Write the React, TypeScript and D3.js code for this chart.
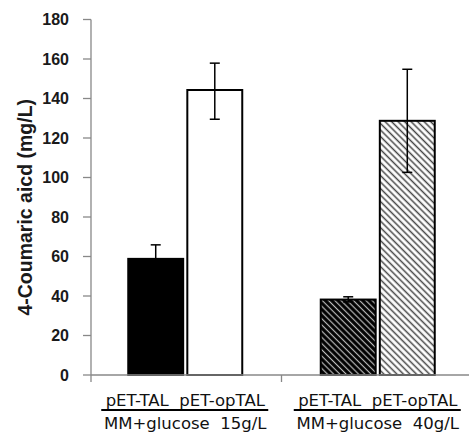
import React from "react";
import * as d3 from "d3";

const groups = ["MM+glucose  15g/L", "MM+glucose  40g/L"];
const strains = ["pET-TAL", "pET-opTAL"];
const values = [
  [58.8, 144.3],
  [38.2, 128.7],
];
const errLow = [
  [58.8, 129.5],
  [37.0, 102.6],
];
const errHigh = [
  [65.9, 157.9],
  [39.6, 154.8],
];
const yTicks = [0, 20, 40, 60, 80, 100, 120, 140, 160, 180];
const fills = [
  ["#000000", "#ffffff"],
  ["url(#hatchDark)", "url(#hatchLight)"],
];

export default function App() {
  const W = 469, H = 439;
  const axX = 91, yTop = 19.5, yBot = 375;
  const y = d3.scaleLinear().domain([0, 180]).range([yBot, yTop]);
  const xg = d3.scaleBand().domain(groups).range([89, 474]).paddingInner(0).paddingOuter(0);
  const pairW = 114;
  const xs = d3.scaleBand().domain(strains).range([0, pairW]).paddingInner(0.07);
  const font = "'DejaVu Sans', Verdana, sans-serif";
  const tickFont = "'Liberation Sans', Arial, sans-serif";

  return (
    <svg width={W} height={H} style={{ position: "absolute", left: 0, top: 0 }}>
      <defs>
        <pattern id="hatchDark" patternUnits="userSpaceOnUse" width="4.4" height="4.4" patternTransform="rotate(45)">
          <rect width="4.4" height="4.4" fill="#000" />
          <line x1="0" y1="2.2" x2="4.4" y2="2.2" stroke="#bbb" strokeWidth="1.2" />
        </pattern>
        <pattern id="hatchLight" patternUnits="userSpaceOnUse" width="4.6" height="4.6" patternTransform="rotate(45)">
          <rect width="4.6" height="4.6" fill="#fff" />
          <line x1="0" y1="2.3" x2="4.6" y2="2.3" stroke="#444" strokeWidth="1.5" />
        </pattern>
      </defs>
      <rect width={W} height={H} fill="#fff" />
      {/* y axis */}
      <line x1={axX} y1={yTop} x2={axX} y2={yBot} stroke="#888" strokeWidth={1.3} />
      {yTicks.map((t) => (
        <g key={t}>
          <line x1={axX - 8} x2={axX} y1={y(t)} y2={y(t)} stroke="#888" strokeWidth={1.3} />
          <text x={69} y={y(t)} dy="0.36em" textAnchor="end" fontFamily={tickFont} fontWeight="bold" fontSize={16} fill="#1a1a1a">
            {t}
          </text>
        </g>
      ))}
      <text
        transform={`translate(32,${(yTop + yBot) / 2 + 10}) rotate(-90)`}
        textAnchor="middle"
        fontFamily={tickFont}
        fontWeight="bold"
        fontSize={19.5}
        fill="#1a1a1a"
      >
        4-Coumaric aicd (mg/L)
      </text>
      {/* bars */}
      {groups.map((g, gi) => {
        const gc = (xg(g) as number) + xg.bandwidth() / 2;
        const gx = gc - pairW / 2;
        return (
          <g key={g}>
            {strains.map((s, si) => {
              const bx = gx + (xs(s) as number);
              const bw = xs.bandwidth();
              const cx = bx + bw / 2;
              return (
                <g key={s}>
                  <rect
                    x={bx}
                    y={y(values[gi][si])}
                    width={bw}
                    height={yBot - y(values[gi][si])}
                    fill={fills[gi][si]}
                    stroke="#000"
                    strokeWidth={2}
                  />
                  <line x1={cx} x2={cx} y1={y(errLow[gi][si])} y2={y(errHigh[gi][si])} stroke="#000" strokeWidth={1.5} />
                  <line x1={cx - 5} x2={cx + 5} y1={y(errHigh[gi][si])} y2={y(errHigh[gi][si])} stroke="#000" strokeWidth={1.5} />
                  {errLow[gi][si] < values[gi][si] && (
                    <line x1={cx - 5} x2={cx + 5} y1={y(errLow[gi][si])} y2={y(errLow[gi][si])} stroke="#000" strokeWidth={1.5} />
                  )}
                </g>
              );
            })}
            <text
              x={gc}
              y={406}
              textAnchor="middle"
              fontFamily={font}
              fontSize={16.5}
              fill="#111"
              xmlSpace="preserve"
            >
              {strains.join("  ")}
            </text>
            <line x1={gc - 84} x2={gc + 83} y1={410} y2={410} stroke="#000" strokeWidth={2} />
            <text
              x={gc}
              y={429}
              textAnchor="middle"
              fontFamily={font}
              fontSize={16.5}
              fill="#111"
              xmlSpace="preserve"
            >
              {g}
            </text>
          </g>
        );
      })}
      {/* x axis */}
      <line x1={axX} y1={yBot} x2={W} y2={yBot} stroke="#888" strokeWidth={1.3} />
      {[axX, (xg(groups[1]) as number)].map((v, i) => (
        <line key={i} x1={v} x2={v} y1={yBot} y2={yBot + 7} stroke="#888" strokeWidth={1.3} />
      ))}
    </svg>
  );
}
